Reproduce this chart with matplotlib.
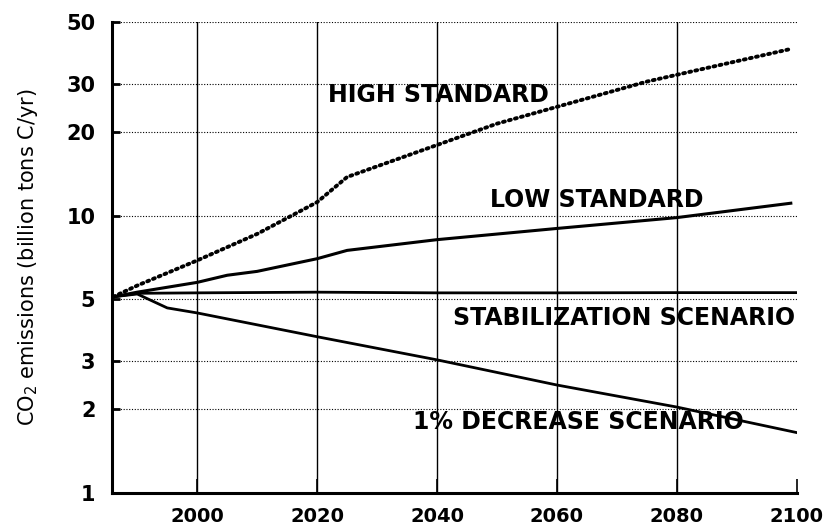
import matplotlib.pyplot as plt
import matplotlib.transforms as mtransforms
from matplotlib.ticker import NullLocator

# values
high_years = [1986, 1990, 2000, 2010, 2020, 2025, 2050, 2075, 2099]
high_vals = [5.1, 5.6, 6.9, 8.6, 11.2, 13.8, 21.5, 30.5, 40.0]

low_years = [1986, 1990, 2000, 2005, 2010, 2020, 2025, 2040, 2060, 2080, 2099]
low_vals = [5.1, 5.3, 5.75, 6.1, 6.3, 7.0, 7.5, 8.2, 9.0, 9.85, 11.1]

stab_years = [1986, 1990, 2000, 2020, 2040, 2060, 2080, 2100]
stab_vals = [5.1, 5.25, 5.27, 5.3, 5.27, 5.27, 5.28, 5.28]

dec_years = [1986, 1990, 1995, 2000, 2020, 2040, 2060, 2080, 2100]
dec_vals = [5.1, 5.22, 4.65, 4.46, 3.66, 3.02, 2.45, 2.04, 1.65]

y_ticks = [1, 2, 3, 5, 10, 20, 30, 50]
x_ticks = [2000, 2020, 2040, 2060, 2080, 2100]

plt.rcParams['font.family'] = ['DejaVu Sans']

fig = plt.figure(figsize=(8.24, 5.26), dpi=100)
ax = fig.add_axes([0.136, 0.063, 0.831, 0.895])

ax.set_yscale('log')
ax.set_xlim(1985.8, 2100)
ax.set_ylim(1, 50)

# grid: dotted horizontal, thin solid vertical
for v in y_ticks[1:]:
    ax.axhline(v, color='black', lw=0.8, ls=(0, (1, 1.5)), zorder=1)
for yr in x_ticks[:-1]:
    ax.axvline(yr, color='black', lw=1.0, zorder=1)

ax.plot(high_years, high_vals, color='black', lw=2.8, ls=(0, (0.5, 1.1)),
        dash_capstyle='round', zorder=3)
ax.plot(low_years, low_vals, color='black', lw=2.2, zorder=3)
ax.plot(stab_years, stab_vals, color='black', lw=2.0, zorder=3)
ax.plot(dec_years, dec_vals, color='black', lw=2.0, zorder=3)

lbl = dict(fontsize=17, fontweight='bold', color='black', va='center', zorder=4)
ax.text(2021.8, 27.3, 'HIGH STANDARD', ha='left', **lbl)
ax.text(2048.8, 11.4, 'LOW STANDARD', ha='left', **lbl)
ax.text(2099.8, 4.28, 'STABILIZATION SCENARIO', ha='right', **lbl)
ax.text(2036.0, 1.80, '1% DECREASE SCENARIO', ha='left', **lbl)

ax.set_yticks(y_ticks)
ax.set_yticklabels([str(v) for v in y_ticks], fontsize=15, fontweight='bold')
ax.yaxis.set_minor_locator(NullLocator())
ax.set_xticks(x_ticks)
ax.set_xticklabels([str(v) for v in x_ticks], fontsize=14, fontweight='bold')

# last year label sits a little left of its tick, as in the original
last = ax.get_xticklabels()[-1]
last.set_transform(last.get_transform() +
                   mtransforms.ScaledTranslation(-4 / 72, 0, fig.dpi_scale_trans))

ax.tick_params(axis='y', direction='in', length=6, width=2, pad=12)
ax.tick_params(axis='x', direction='in', length=10, width=1.2, pad=10)

ax.set_ylabel('CO$_2$ emissions (billion tons C/yr)', fontsize=15, labelpad=19)

for s in ['top', 'right']:
    ax.spines[s].set_visible(False)
for s in ['left', 'bottom']:
    ax.spines[s].set_linewidth(2.2)

fig.savefig('out.png', dpi=100)
